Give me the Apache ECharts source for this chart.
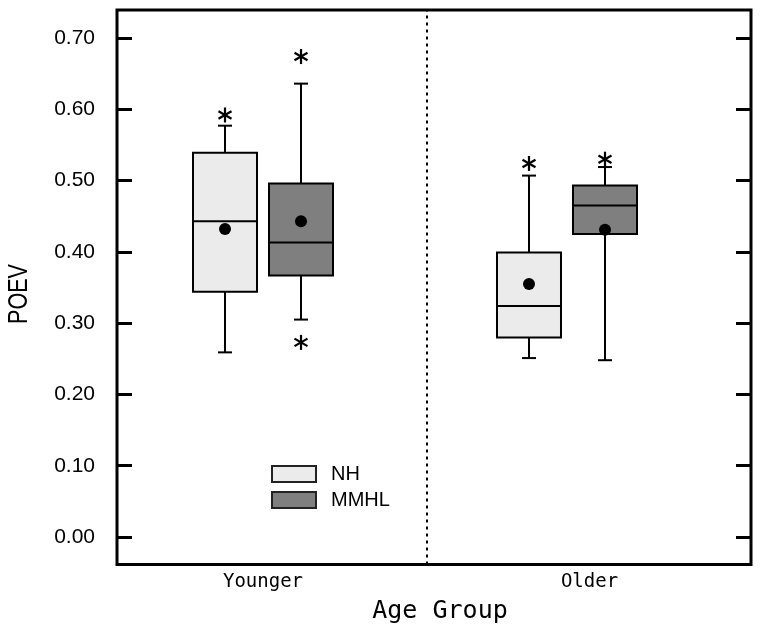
<!DOCTYPE html>
<html>
<head>
<meta charset="utf-8">
<script src="https://cdn.jsdelivr.net/npm/echarts@6/dist/echarts.min.js"></script>
<style>
html,body{margin:0;padding:0;background:#fff;}
#chart{width:762px;height:640px;}
</style>
</head>
<body>
<div id="chart"></div>
<script>
// ---- data ----
var categories = ['Younger', 'Older'];
var groups = ['NH', 'MMHL'];
var yTicks = [0, 0.1, 0.2, 0.3, 0.4, 0.5, 0.6, 0.7];

var nhMin    = [0.259, 0.251];
var nhQ1     = [0.344, 0.280];
var nhMedian = [0.443, 0.324];
var nhQ3     = [0.539, 0.399];
var nhMax    = [0.577, 0.507];
var nhMean   = [0.432, 0.355];
var nhOutliers = [[0.592], [0.524]];

var mmhlMin    = [0.305, 0.248];
var mmhlQ1     = [0.367, 0.425];
var mmhlMedian = [0.413, 0.465];
var mmhlQ3     = [0.496, 0.493];
var mmhlMax    = [0.636, 0.519];
var mmhlMean   = [0.443, 0.431];
var mmhlOutliers = [[0.674, 0.273], [0.530]];

// ---- layout constants (pixels / axis units) ----
var GROUP_OFFSET = [-38, 38];   // px offset of each group's box from category centre
var BOX_W = 64;                 // px
var CAP_W = 14;                 // px
var X_MIN = -0.4803, X_MAX = 1.6053;
var DIVIDER_X = 0.542;
var LABEL_POS = [0, 1.074];
var FILLS = ['#ebebeb', '#7f7f7f'];

function boxData(mn, q1, md, q3, mx, mean) {
  return categories.map(function (c, i) {
    return [i, mn[i], q1[i], md[i], q3[i], mx[i], mean[i]];
  });
}
function outlierData(outs) {
  var d = [];
  outs.forEach(function (arr, i) { arr.forEach(function (v) { d.push([i, v]); }); });
  return d;
}

function makeBoxRender(gi) {
  return function (params, api) {
    var xi = api.value(0);
    var off = GROUP_OFFSET[gi];
    var pMin = api.coord([xi, api.value(1)]);
    var pQ1 = api.coord([xi, api.value(2)]);
    var pMd = api.coord([xi, api.value(3)]);
    var pQ3 = api.coord([xi, api.value(4)]);
    var pMx = api.coord([xi, api.value(5)]);
    var pMean = api.coord([xi, api.value(6)]);
    var cx = pMd[0] + off;
    var ls = {stroke: '#000', lineWidth: 2};
    return {
      type: 'group',
      children: [
        {type: 'line', shape: {x1: cx, y1: pMx[1], x2: cx, y2: pQ3[1]}, style: ls},
        {type: 'line', shape: {x1: cx, y1: pQ1[1], x2: cx, y2: pMin[1]}, style: ls},
        {type: 'line', shape: {x1: cx - CAP_W / 2, y1: pMx[1], x2: cx + CAP_W / 2, y2: pMx[1]}, style: ls},
        {type: 'line', shape: {x1: cx - CAP_W / 2, y1: pMin[1], x2: cx + CAP_W / 2, y2: pMin[1]}, style: ls},
        {type: 'rect', shape: {x: cx - BOX_W / 2, y: pQ3[1], width: BOX_W, height: pQ1[1] - pQ3[1]},
          style: {fill: FILLS[gi], stroke: '#000', lineWidth: 2}},
        {type: 'line', shape: {x1: cx - BOX_W / 2, y1: pMd[1], x2: cx + BOX_W / 2, y2: pMd[1]}, style: ls},
        {type: 'circle', shape: {cx: cx, cy: pMean[1], r: 6}, style: {fill: '#000'}}
      ]
    };
  };
}

function makeStarRender(gi) {
  return function (params, api) {
    var p = api.coord([api.value(0), api.value(1)]);
    var cx = p[0] + GROUP_OFFSET[gi], cy = p[1];
    var r = 7.5, ls = {stroke: '#000', lineWidth: 2.2};
    var kids = [];
    [90, 30, 150].forEach(function (a) {
      var rad = a * Math.PI / 180;
      var dx = r * Math.cos(rad), dy = r * Math.sin(rad);
      kids.push({type: 'line', shape: {x1: cx - dx, y1: cy - dy, x2: cx + dx, y2: cy + dy}, style: ls});
    });
    return {type: 'group', children: kids};
  };
}

var chart = echarts.init(document.getElementById('chart'));
var option = {
  backgroundColor: '#fff',
  animation: false,
  grid: {left: 117, right: 11, top: 10, bottom: 75.5, show: true,
         borderColor: '#000', borderWidth: 3, backgroundColor: 'transparent'},
  graphic: [{
    type: 'text', x: 20, y: 294, rotation: Math.PI / 2, scaleX: 0.8,
    style: {text: 'POEV', fontFamily: 'Liberation Sans, Arial, sans-serif', fontSize: 27,
            fill: '#000', align: 'center', verticalAlign: 'middle'}
  }],
  legend: {
    orient: 'vertical', left: 266, top: 459, itemWidth: 44, itemHeight: 16, itemGap: 6,
    selectedMode: false,
    textStyle: {fontFamily: 'Liberation Sans, Arial, sans-serif', fontSize: 20, color: '#000', padding: [0, 0, 0, 10]},
    data: [
      {name: 'NH', icon: 'rect', itemStyle: {color: FILLS[0], borderColor: '#222', borderWidth: 2}},
      {name: 'MMHL', icon: 'rect', itemStyle: {color: FILLS[1], borderColor: '#222', borderWidth: 2}}
    ]
  },
  xAxis: {
    type: 'value', min: X_MIN, max: X_MAX,
    name: 'Age Group', nameLocation: 'middle', nameGap: 34,
    nameTextStyle: {fontFamily: 'DejaVu Sans Mono, monospace', fontSize: 25, color: '#000', padding: [0, 0, 0, 12]},
    axisLine: {show: false, onZero: false}, axisTick: {show: false}, splitLine: {show: false},
    axisLabel: {
      customValues: LABEL_POS, margin: 8,
      fontFamily: 'DejaVu Sans Mono, monospace', fontSize: 19, color: '#000',
      formatter: function (v) { return categories[Math.round(v)]; }
    }
  },
  yAxis: [{
    type: 'value', min: -0.0386, max: 0.7393,
    axisLine: {show: false, onZero: false}, splitLine: {show: false},
    axisTick: {show: true, inside: true, length: 15, customValues: yTicks, lineStyle: {color: '#000', width: 3}},
    axisLabel: {customValues: yTicks, margin: 22, fontFamily: 'Liberation Sans, Arial, sans-serif',
      fontSize: 21, color: '#000', formatter: function (v) { return v.toFixed(2); }}
  }, {
    type: 'value', min: -0.0386, max: 0.7393, position: 'right',
    axisLine: {show: false, onZero: false}, splitLine: {show: false}, axisLabel: {show: false},
    axisTick: {show: true, inside: true, length: 15, customValues: yTicks, lineStyle: {color: '#000', width: 3}}
  }],
  series: [
    {name: 'NH', type: 'custom', renderItem: makeBoxRender(0),
     itemStyle: {color: FILLS[0]},
     data: boxData(nhMin, nhQ1, nhMedian, nhQ3, nhMax, nhMean),
     encode: {x: 0, y: [1, 2, 3, 4, 5, 6]},
     markLine: {silent: true, symbol: 'none', label: {show: false},
       lineStyle: {color: '#000', width: 2, type: [3, 4]},
       data: [{xAxis: DIVIDER_X}]}},
    {name: 'MMHL', type: 'custom', renderItem: makeBoxRender(1),
     itemStyle: {color: FILLS[1]},
     data: boxData(mmhlMin, mmhlQ1, mmhlMedian, mmhlQ3, mmhlMax, mmhlMean),
     encode: {x: 0, y: [1, 2, 3, 4, 5, 6]}},
    {name: 'NH outliers', type: 'custom', renderItem: makeStarRender(0),
     data: outlierData(nhOutliers), encode: {x: 0, y: 1}},
    {name: 'MMHL outliers', type: 'custom', renderItem: makeStarRender(1),
     data: outlierData(mmhlOutliers), encode: {x: 0, y: 1}}
  ]
};
chart.setOption(option);
</script>
</body>
</html>
